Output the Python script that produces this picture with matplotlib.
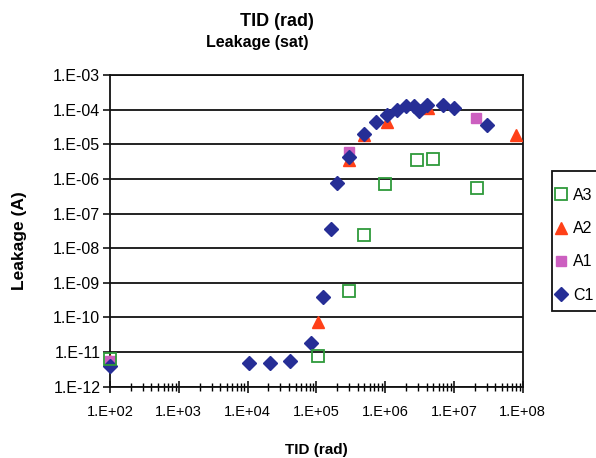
# TID 조사량에 따른 누설전류 산점도 (log-log).

import matplotlib.pyplot as plt
from matplotlib.patches import Rectangle
from matplotlib.ticker import LogLocator, NullFormatter

plt.rcParams['font.family'] = ['Liberation Sans', 'DejaVu Sans']

# 시료별 측정값 (TID [rad], 누설전류 [A])
c1_x = [1e2, 1.05e4, 2.1e4, 4.2e4, 8.3e4, 1.25e5, 1.66e5, 2.0e5, 3.0e5, 5.0e5,
        7.3e5, 1.05e6, 1.5e6, 2.0e6, 2.6e6, 3.1e6, 4.1e6, 6.9e6, 1.0e7, 3.0e7]
c1_y = [3.9e-12, 4.9e-12, 4.9e-12, 5.4e-12, 1.8e-11, 3.8e-10, 3.5e-8, 7.4e-7, 4.4e-6, 2.0e-5,
        4.5e-5, 6.9e-5, 1.0e-4, 1.27e-4, 1.27e-4, 9.3e-5, 1.35e-4, 1.35e-4, 1.1e-4, 3.6e-5]

a1_x = [1e2, 2.95e5, 2.1e7]
a1_y = [5.5e-12, 6.0e-6, 5.9e-5]

a2_x = [1e2, 1.05e5, 3.0e5, 5.0e5, 1.05e6, 4.2e6, 8.0e7]
a2_y = [5.5e-12, 7.4e-11, 3.5e-6, 1.8e-5, 4.3e-5, 1.1e-4, 1.9e-5]

a3_x = [1e2, 1.05e5, 2.95e5, 4.9e5, 1.0e6, 2.95e6, 5.0e6, 2.2e7]
a3_y = [6.2e-12, 7.6e-12, 5.7e-10, 2.4e-8, 7.1e-7, 3.5e-6, 3.7e-6, 5.5e-7]

x_ticks = [1e2, 1e3, 1e4, 1e5, 1e6, 1e7, 1e8]
x_labels = ['1.E+02', '1.E+03', '1.E+04', '1.E+05', '1.E+06', '1.E+07', '1.E+08']
y_ticks = [1e-12, 1e-11, 1e-10, 1e-9, 1e-8, 1e-7, 1e-6, 1e-5, 1e-4, 1e-3]
y_labels = ['1.E-12', '1.E-11', '1.E-10', '1.E-09', '1.E-08', '1.E-07',
            '1.E-06', '1.E-05', '1.E-04', '1.E-03']

W, H = 596, 458
fig = plt.figure(figsize=(W / 100, H / 100), dpi=100)
ax = fig.add_axes([0.1846, 0.1557, 0.6924, 0.6805])

# 점 찍기 (C1이 A1, A2 위로 오도록)
h_a2, = ax.plot(a2_x, a2_y, '^', color='#ff4018', ms=9, mec='#ff4018', ls='none', clip_on=False, zorder=3)
h_a1, = ax.plot(a1_x, a1_y, 's', color='#cc5fc0', ms=7.5, mec='#cc5fc0', ls='none', clip_on=False, zorder=3)
h_c1, = ax.plot(c1_x, c1_y, 'D', color='#262e96', ms=7.5, mec='#262e96', ls='none', clip_on=False, zorder=4)
h_a3, = ax.plot(a3_x, a3_y, 's', mfc='none', mec='#2e9a3a', mew=1.3, ms=9, ls='none', clip_on=False, zorder=5)

ax.set_xscale('log')
ax.set_yscale('log')
ax.set_xlim(1e2, 1e8)
ax.set_ylim(1e-12, 1e-3)

ax.set_xticks(x_ticks, x_labels)
ax.set_yticks(y_ticks, y_labels)
ax.xaxis.set_minor_locator(LogLocator(base=10, subs=range(2, 10), numticks=20))
ax.xaxis.set_minor_formatter(NullFormatter())
ax.yaxis.set_minor_locator(LogLocator(base=10, subs=[]))

ax.tick_params(axis='x', which='major', direction='inout', length=9, width=1.1, pad=9, labelsize=10.5)
ax.tick_params(axis='x', which='minor', direction='inout', length=6, width=1.0)
ax.tick_params(axis='y', which='major', direction='out', length=5, width=1.1, pad=2, labelsize=11.5)

ax.grid(axis='y', which='major', color='#111111', linewidth=1.3)
ax.set_axisbelow(True)
for s in ax.spines.values():
    s.set_color('#111111')
    s.set_linewidth(1.3)

# 제목, 축 이름
fig.text(277 / W, 1 - 21 / H, 'TID (rad)', ha='center', va='center', fontsize=13, fontweight='bold')
fig.text(257 / W, 1 - 43 / H, 'Leakage (sat)', ha='center', va='center', fontsize=11.5, fontweight='bold')
fig.text(316 / W, 1 - 450 / H, 'TID (rad)', ha='center', va='center', fontsize=11, fontweight='bold')
fig.text(20 / W, 1 - 241 / H, 'Leakage (A)', ha='center', va='center', rotation=90,
         fontsize=12.5, fontweight='bold')

# 범례: 테두리는 따로 그림 (오른쪽이 그림 밖으로 잘림)
fig.patches.append(Rectangle((552 / W, 1 - 311 / H), 60 / W, 140 / H, transform=fig.transFigure,
                             facecolor='white', edgecolor='#111111', linewidth=1.3, zorder=1))
leg = fig.legend([h_a3, h_a2, h_a1, h_c1], ['A3', 'A2', 'A1', 'C1'],
                 loc='upper left', bbox_to_anchor=(555 / W, 1 - 188 / H),
                 bbox_transform=fig.transFigure, borderaxespad=0, borderpad=0, fontsize=11.5,
                 frameon=False, labelspacing=1.14, handlelength=0.8, handletextpad=0.35)
leg.set_zorder(2)

plt.savefig('out.png', dpi=100)
plt.close()
